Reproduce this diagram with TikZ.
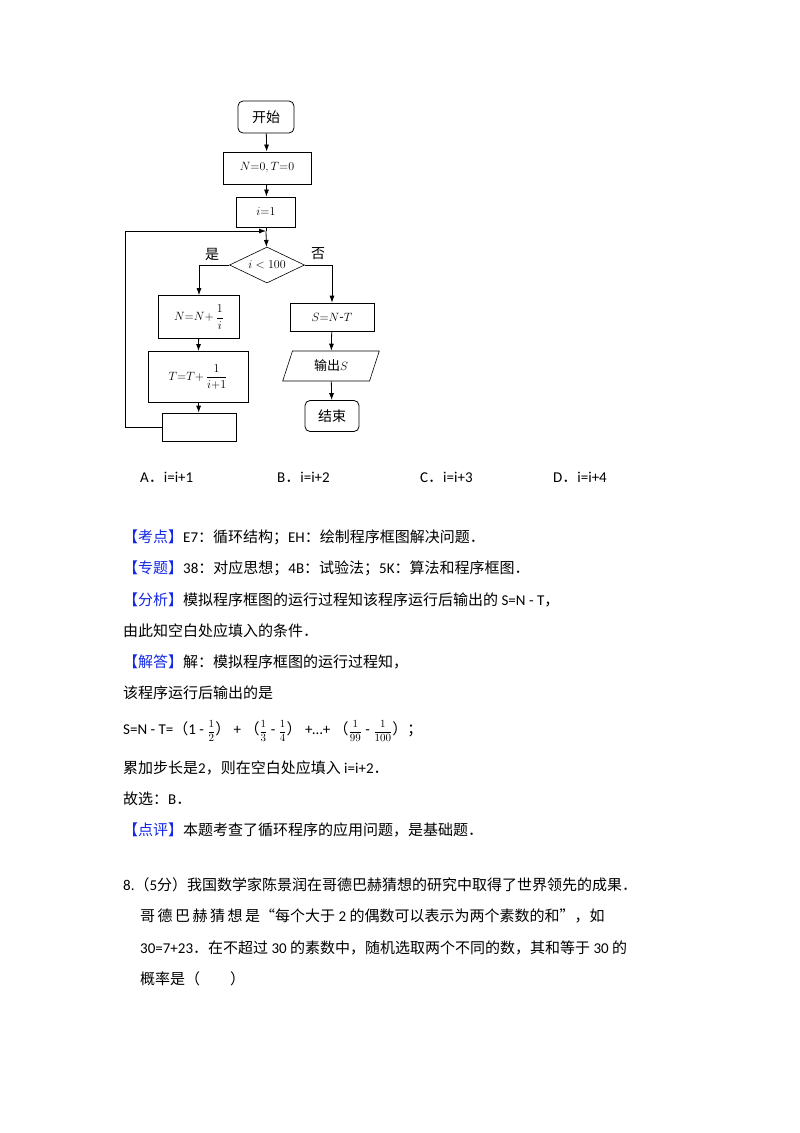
\documentclass[tikz,border=0pt]{standalone}
\usepackage{amsmath}
\usepackage{fontspec}
\setmainfont{Noto Sans CJK SC}
\newfontfamily\lat{Carlito}
\usetikzlibrary{shapes.geometric,arrows.meta}
\definecolor{kblue}{RGB}{20,40,230}
\newcommand{\fr}[2]{{\fontsize{11}{11}\selectfont$\dfrac{#1}{#2}$}}
\begin{document}
\begin{tikzpicture}[x=1pt,y=-1pt,
  box/.style={draw,line width=0.9pt,minimum height=#1,inner sep=1pt,font=\fontsize{13}{13}\selectfont},
  box/.default=30pt,
  rbox/.style={draw,rounded corners=5pt,line width=0.8pt,minimum width=56pt,minimum height=32pt,font=\fontsize{14}{14}\selectfont},
  arr/.style={-{Latex[length=7pt,width=5pt]},line width=0.8pt},
  ln/.style={line width=0.8pt},
  txt/.style={anchor=west,inner sep=0pt,font=\fontsize{15}{15}\selectfont},
  kw/.style={text=kblue}]
\useasboundingbox (0,0) rectangle (800,1133);
\fill[white] (0,0) rectangle (800,1133);
% flowchart
\node[rbox] (start) at (266,117) {开始};
\node[box=32pt,minimum width=88pt] (init) at (267,168) {$N{=}0, T{=}0$};
\node[box=30pt,minimum width=59pt] (i1) at (266,212) {$i{=}1$};
\coordinate (j) at (266,231);
\node[diamond,draw,line width=0.6pt,aspect=2.1,minimum width=75pt,minimum height=36pt,inner sep=0pt,font=\fontsize{13}{13}\selectfont] (dec) at (267,265) {$i<100$};
\node[box=43pt,minimum width=81pt,line width=0.6pt] (nb) at (199,317) {$N{=}N{+}\,\dfrac{1}{i}$};
\node[box=51pt,minimum width=100pt] (tb) at (198,377) {$T{=}T{+}\,\dfrac{1}{i{+}1}$};
\node[box=28pt,minimum width=74pt,line width=0.6pt] (blank) at (199,427) {};
\node[box=28pt,minimum width=84pt,line width=0.6pt] (sb) at (332,317) {$S{=}N\text{-}T$};
\node[trapezium,trapezium left angle=72,trapezium right angle=108,draw,line width=0.6pt,minimum width=70pt,minimum height=30pt,inner sep=1pt,font=\fontsize{13}{13}\selectfont] (out) at (331,366) {输出$S$};
\node[rbox,minimum width=54pt,minimum height=31pt] (end) at (332,416) {结束};
\node (yes) at (212,254) {\fontsize{14}{14}\selectfont 是};
\node (no) at (318,254) {\fontsize{14}{14}\selectfont 否};
\draw[arr] (start) -- (init);
\draw[arr] (init) -- (i1);
\draw[ln] (i1) -- (j);
\draw[arr] (j) -- (dec);
\draw[arr] (dec.west) -| (nb.north);
\draw[arr] (nb) -- (tb);
\draw[arr] (tb) -- (blank);
\draw[arr] (blank.west) -- (125,427) -- (125,231) -- (j);
\draw[arr] (dec.east) -| (sb.north);
\draw[arr] (sb) -- (out);
\draw[arr] (out) -- (end);
% options
\node[txt] (oa) at (140,477) {{\lat A}．{\lat i=i+1}};
\node[txt] (ob) at (277,477) {{\lat B}．{\lat i=i+2}};
\node[txt] (oc) at (420,477) {{\lat C}．{\lat i=i+3}};
\node[txt] (od) at (553,477) {{\lat D}．{\lat i=i+4}};
% analysis
\node[txt] (l1) at (123,537) {{\color{kblue}【考点】}{\lat E7}：循环结构；{\lat EH}：绘制程序框图解决问题．};
\node[txt] (l2) at (123,568) {{\color{kblue}【专题】}{\lat 38}：对应思想；{\lat 4B}：试验法；{\lat 5K}：算法和程序框图．};
\node[txt] (l3) at (123,600) {{\color{kblue}【分析】}模拟程序框图的运行过程知该程序运行后输出的{\lat\ S=N - T}，};
\node[txt] (l4) at (123,631) {由此知空白处应填入的条件．};
\node[txt] (l5) at (123,662) {{\color{kblue}【解答】}解：模拟程序框图的运行过程知，};
\node[txt] (l6) at (123,693) {该程序运行后输出的是};
\node[txt] (l7) at (123,731) {{\lat S=N - T=}（{\lat 1 - }\fr{1}{2}）{\lat\ + }（\fr{1}{3}{\lat\ - }\fr{1}{4}）{\lat\ +…+ }（\fr{1}{99}{\lat\ - }\fr{1}{100}）；};
\node[txt] (l8) at (123,768) {累加步长是{\lat 2}，则在空白处应填入{\lat\ i=i+2}．};
\node[txt] (l9) at (123,799) {故选：{\lat B}．};
\node[txt] (l10) at (123,830) {{\color{kblue}【点评】}本题考查了循环程序的应用问题，是基础题．};
\node[txt] (q1) at (123,885) {{\lat 8.}（{\lat 5}分）我国数学家陈景润在哥德巴赫猜想的研究中取得了世界领先的成果．};
\node[txt] (q2) at (140,916) {哥\,德\,巴\,赫\,猜\,想\,是“每个大于{\lat\ 2 }的偶数可以表示为两个素数的和”，如};
\node[txt] (q3) at (140,948) {{\lat 30=7+23}．在不超过{\lat\ 30 }的素数中，随机选取两个不同的数，其和等于{\lat\ 30 }的};
\node[txt] (q4) at (140,979) {概率是（\qquad）};
\end{tikzpicture}
\end{document}
